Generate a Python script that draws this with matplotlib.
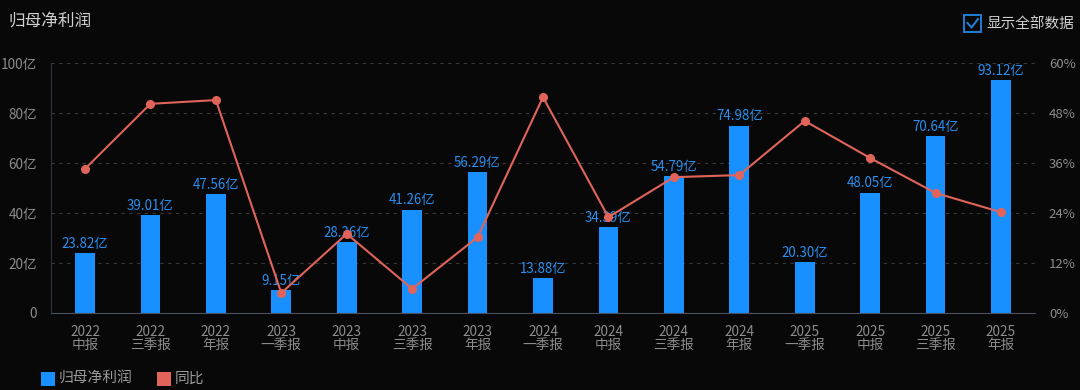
import numpy as np
import matplotlib
matplotlib.use('Agg')
import matplotlib.pyplot as plt
from matplotlib.patches import Rectangle

plt.rcParams['font.family'] = ['Noto Sans CJK SC', 'DejaVu Sans']

years = ['2022', '2022', '2022', '2023', '2023', '2023', '2023', '2024', '2024', '2024', '2024', '2025', '2025', '2025', '2025']
periods = ['中报', '三季报', '年报', '一季报', '中报', '三季报', '年报', '一季报', '中报', '三季报', '年报', '一季报', '中报', '三季报', '年报']
profit = [23.82, 39.01, 47.56, 9.15, 28.36, 41.26, 56.29, 13.88, 34.39, 54.79, 74.98, 20.30, 48.05, 70.64, 93.12]
yoy = [34.6, 50.2, 51.1, 4.8, 19.0, 5.8, 18.2, 51.8, 23.0, 32.6, 33.1, 46.1, 37.2, 28.8, 24.2]

bg = '#080808'
bar_c = '#1890ff'
line_c = '#e0645a'
tick_c = '#8c8c8c'
grid_c = '#3a3a3a'

fig = plt.figure(figsize=(10.8, 3.9), dpi=100, facecolor=bg)
ax = fig.add_axes([51 / 1080, 1 - 313 / 390, 984 / 1080, 250 / 390])
ax.set_facecolor(bg)
x = np.arange(len(profit))

ax.bar(x, profit, width=0.30, color=bar_c, zorder=2)
for xi, v in zip(x, profit):
    ax.text(xi, v + 1.0, f'{v:.2f}亿', ha='center', va='bottom', color='#2a8fef', fontsize=9.6, zorder=5)

ax.set_xlim(-0.52, len(profit) - 0.48)
ax.set_ylim(0, 100)
ax.set_yticks([0, 20, 40, 60, 80, 100])
ax.set_yticklabels(['0', '20亿', '40亿', '60亿', '80亿', '100亿'])
ax.set_xticks(x)
ax.set_xticklabels([f'{a}\n{b}' for a, b in zip(years, periods)], linespacing=0.9)
ax.tick_params(axis='both', colors=tick_c, labelsize=9.8, length=0)
ax.tick_params(axis='x', pad=9)
ax.tick_params(axis='y', pad=10)
for yv in [20, 40, 60, 80, 100]:
    ax.axhline(yv, color=grid_c, lw=0.8, ls=(0, (3, 4)), zorder=0)
for s in ['top', 'right']:
    ax.spines[s].set_visible(False)
ax.spines['left'].set_color('#2e3440')
ax.spines['bottom'].set_color('#4a5060')

ax2 = ax.twinx()
ax2.plot(x, yoy, color=line_c, lw=1.5, marker='o', ms=5.5, zorder=4)
ax2.set_ylim(0, 60)
ax2.set_yticks([0, 12, 24, 36, 48, 60])
ax2.set_yticklabels(['0%', '12%', '24%', '36%', '48%', '60%'])
ax2.tick_params(axis='y', colors=tick_c, labelsize=9.5, length=0, pad=10)
for s in ax2.spines.values():
    s.set_visible(False)

fig.text(8 / 1080, 1 - 21 / 390, '归母净利润', color='#d0d0d0', fontsize=12, va='center', ha='left')

# checkbox
fig.patches.append(Rectangle((964 / 1080, 1 - 32 / 390), 17 / 1080, 17 / 390, transform=fig.transFigure,
                             fill=False, edgecolor='#1f7fd6', lw=1.4))
fig.lines.append(plt.Line2D([967.5 / 1080, 971.5 / 1080, 978 / 1080], [1 - 23 / 390, 1 - 27.5 / 390, 1 - 19 / 390],
                            transform=fig.transFigure, color='#1f7fd6', lw=1.5))
fig.text(986 / 1080, 1 - 24 / 390, '显示全部数据', color='#d0d0d0', fontsize=10.5, va='center', ha='left')

# legend
fig.patches.append(Rectangle((41 / 1080, 1 - 386 / 390), 14 / 1080, 14 / 390, transform=fig.transFigure,
                             facecolor=bar_c, edgecolor='none'))
fig.text(59 / 1080, 1 - 379 / 390, '归母净利润', color='#9a9a9a', fontsize=10.6, va='center', ha='left')
fig.patches.append(Rectangle((157 / 1080, 1 - 386 / 390), 14 / 1080, 14 / 390, transform=fig.transFigure,
                             facecolor=line_c, edgecolor='none'))
fig.text(175 / 1080, 1 - 379 / 390, '同比', color='#9a9a9a', fontsize=10.6, va='center', ha='left')

fig.savefig('out.png', dpi=100, facecolor=bg)
